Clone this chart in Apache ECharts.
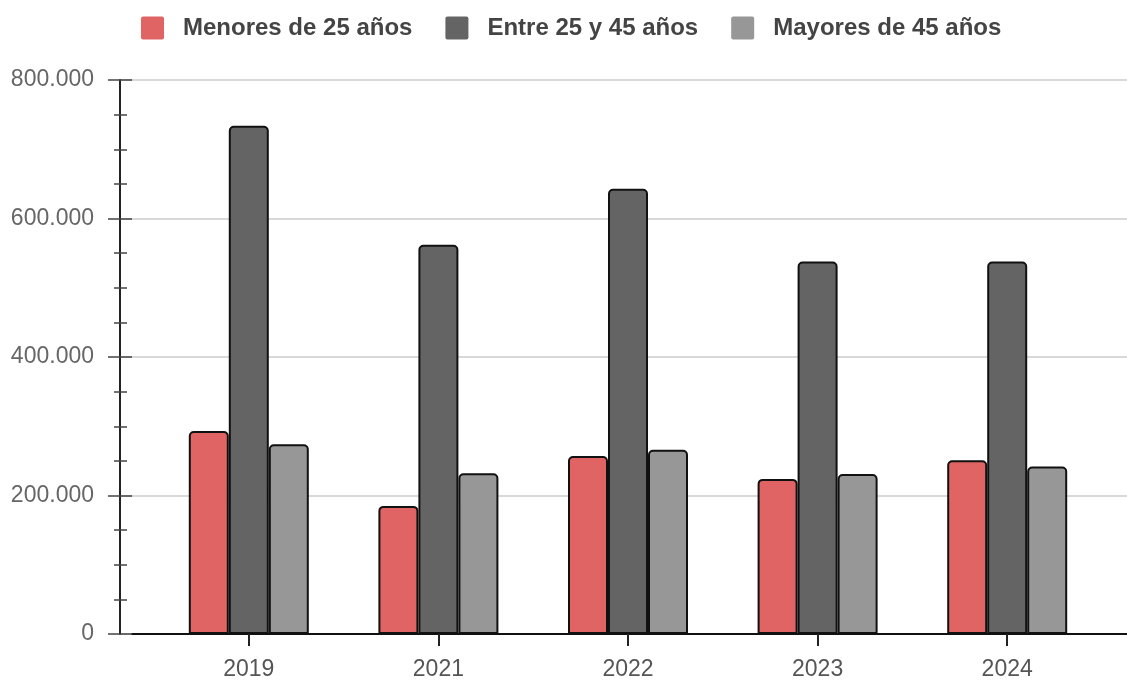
<!DOCTYPE html>
<html>
<head>
<meta charset="utf-8">
<script src="https://cdn.jsdelivr.net/npm/echarts@6/dist/echarts.min.js"></script>
<style>
html,body{margin:0;padding:0;background:#fff;}
#chart{width:1127px;height:681px;}
</style>
</head>
<body>
<div id="chart"></div>
<script>
const categories = ['2019', '2021', '2022', '2023', '2024'];
const seriesNames = ['Menores de 25 años', 'Entre 25 y 45 años', 'Mayores de 45 años'];
const menores = [293000, 185000, 257000, 224000, 251000];
const entre = [734000, 562000, 643000, 538000, 538000];
const mayores = [274000, 232000, 266000, 231000, 242000];
const yMin = 0, yMax = 800000, yInterval = 200000;

const colors = ['#e06464', '#646464', '#979797'];
const fmt = v => String(v).replace(/\B(?=(\d{3})+(?!\d))/g, '.');
const FONT = 'Liberation Sans, Arial, sans-serif';

const chart = echarts.init(document.getElementById('chart'));
const tickStyle = {color: '#444', width: 1.5};
const xTickStyle = {color: '#222', width: 2};
const G = {top: 80, bottom: 47};

const option = {
  animation: false,
  textStyle: {fontFamily: FONT},
  legend: {
    top: 16, left: 141, padding: 0,
    itemWidth: 23, itemHeight: 23, itemGap: 33,
    icon: 'path://M2,0 H21 A2,2 0 0 1 23,2 V21 A2,2 0 0 1 21,23 H2 A2,2 0 0 1 0,21 V2 A2,2 0 0 1 2,0 Z',
    itemStyle: {borderWidth: 0},
    textStyle: {fontSize: 24, fontWeight: 'bold', color: '#444', fontFamily: FONT, padding: [0, 0, 0, 14]},
    data: seriesNames
  },
  grid: [
    Object.assign({left: 120, right: 0}, G),   // 0: main y axis
    Object.assign({left: 132, right: 0}, G),   // 1: x axis line
    Object.assign({left: 154, right: 25}, G),  // 2: bars + category labels
    Object.assign({left: 120, right: 0}, G),   // 3: inner y ticks
    Object.assign({left: 154, right: 25}, G)   // 4: inner x ticks
  ],
  xAxis: [
    {gridIndex: 0, type: 'value', min: 0, max: 1, show: false},
    {gridIndex: 1, type: 'value', min: 0, max: 1,
      axisLine: {show: true, lineStyle: {color: '#111', width: 2}},
      axisTick: {show: false}, axisLabel: {show: false}, splitLine: {show: false}},
    {gridIndex: 2, type: 'category', data: categories,
      axisLine: {show: false},
      axisTick: {show: true, alignWithLabel: true, length: 12, lineStyle: xTickStyle},
      axisLabel: {margin: 24, fontSize: 23, color: '#555', fontFamily: FONT}},
    {gridIndex: 3, type: 'value', min: 0, max: 1, show: false},
    {gridIndex: 4, type: 'category', data: categories,
      axisLine: {show: false},
      axisTick: {show: true, inside: true, alignWithLabel: true, length: 12, lineStyle: xTickStyle},
      axisLabel: {show: false}}
  ],
  yAxis: [
    {gridIndex: 0, type: 'value', min: yMin, max: yMax, interval: yInterval,
      axisLine: {show: true, lineStyle: {color: '#222', width: 2}},
      axisTick: {show: true, length: 12, lineStyle: tickStyle},
      minorTick: {show: true, splitNumber: 4, length: 6, lineStyle: tickStyle},
      axisLabel: {margin: 26, fontSize: 23, color: '#666', fontFamily: FONT, formatter: fmt},
      splitLine: {show: true, lineStyle: {color: '#cccccc', width: 1.5}}},
    {gridIndex: 1, type: 'value', min: yMin, max: yMax, show: false},
    {gridIndex: 2, type: 'value', min: yMin, max: yMax, show: false},
    {gridIndex: 3, type: 'value', min: yMin, max: yMax, interval: yInterval,
      axisLine: {show: false},
      axisTick: {show: true, inside: true, length: 12, lineStyle: tickStyle},
      minorTick: {show: true, splitNumber: 4, length: 7, lineStyle: tickStyle},
      axisLabel: {show: false}, splitLine: {show: false}},
    {gridIndex: 4, type: 'value', min: yMin, max: yMax, show: false}
  ],
  series: [menores, entre, mayores].map((d, i) => ({
    name: seriesNames[i],
    type: 'bar',
    xAxisIndex: 2,
    yAxisIndex: 2,
    data: d,
    barWidth: 40,
    barGap: '0%',
    itemStyle: {color: colors[i], borderColor: '#111', borderWidth: 2, borderRadius: [4, 4, 0, 0]}
  }))
};
chart.setOption(option);
</script>
</body>
</html>
